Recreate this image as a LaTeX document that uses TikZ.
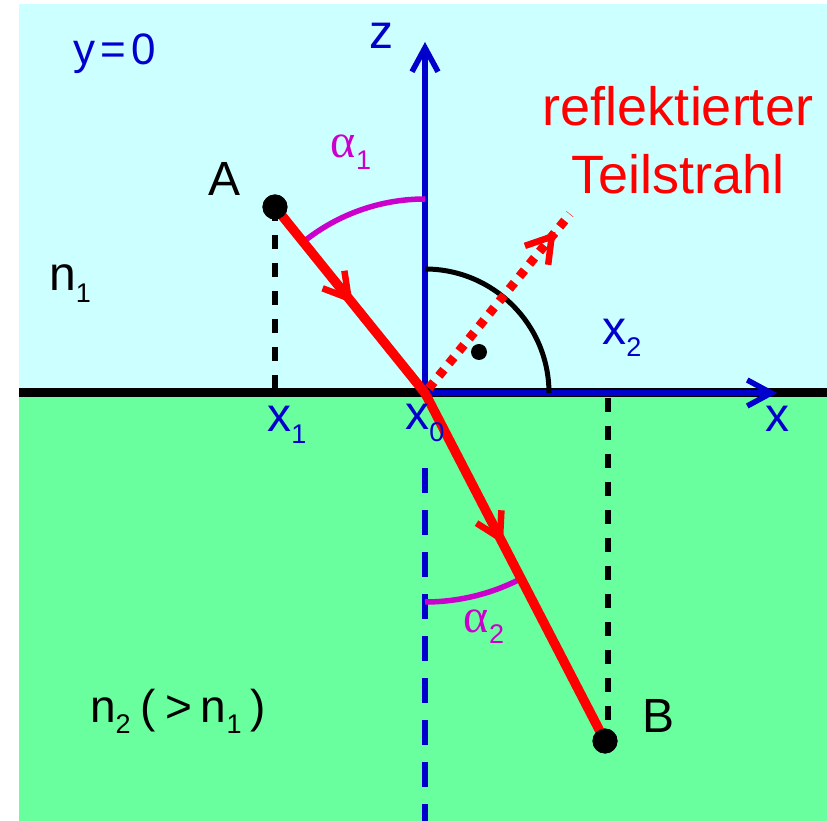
\documentclass[tikz,border=0pt]{standalone}
\usepackage{fontspec}
\setmainfont{Liberation Sans}
\newfontfamily\greekfont{Liberation Serif}
\usetikzlibrary{arrows.meta,decorations.markings}
\definecolor{bgcyan}{RGB}{204,255,255}
\definecolor{bggreen}{RGB}{106,255,158}
\definecolor{axblue}{RGB}{0,0,204}
\definecolor{angmag}{RGB}{204,0,204}
\newcommand\lsub[1]{\raisebox{-0.24em}{\fontsize{27}{27}\selectfont #1}}
\begin{document}
\begin{tikzpicture}[x=1pt,y=1pt,
  lbl/.style={font=\fontsize{48}{48}\selectfont, inner sep=0pt, anchor=base},
  redlbl/.style={font=\fontsize{54}{54}\selectfont, inner sep=0pt, anchor=base, text=red},
  dotnode/.style={circle, fill=black, inner sep=0pt, minimum size=25pt},
  smalldot/.style={circle, fill=black, inner sep=0pt, minimum size=16pt},
  axis/.style={axblue, line width=6.5pt, -{Straight Barb[length=24pt,width=26pt,line width=5.5pt]}},
  raymarks/.style={postaction={decorate}, decoration={markings,
     mark=at position 0.196 with {\arrow{Straight Barb[length=24pt,width=28pt,line width=6.5pt]}},
     mark=at position 0.648 with {\arrow{Straight Barb[length=24pt,width=28pt,line width=6.5pt]}}}},
  reflmark/.style={postaction={decorate}, decoration={markings,
     mark=at position 0.9 with {\arrow{Straight Barb[length=24pt,width=30pt,line width=6.5pt]}}}},
  blackdash/.style={black, line width=5.5pt, dash pattern=on 14pt off 14pt},
  bluedash/.style={axblue, line width=6.5pt, dash pattern=on 25pt off 17pt},
  angarc/.style={angmag, line width=5.5pt}
]
\useasboundingbox (-425,-428) rectangle (402,393);
% backgrounds
\fill[bgcyan] (-406,0) rectangle (402,389);
\fill[bggreen] (-406,-428) rectangle (402,0);
% coordinates
\coordinate (x0) at (0,0);
\coordinate (xl) at (-406,0);
\coordinate (xr) at (402,0);
\coordinate (zt) at (0,351);
\coordinate (xt) at (352,0);
\coordinate (R) at (145,179);
\coordinate (Afoot) at (-150,4);
\coordinate (Bfoot) at (183,-5);
\coordinate (Btop) at (183,-330);
\coordinate (nd1) at (0,-75);
\coordinate (nd2) at (0,-428);
% interface
\draw[black, line width=9pt] (xl) -- (xr);
% dots
\node[dotnode] (A) at (-150,186) {};
\node[dotnode] (B) at (180,-348) {};
% dashed lines
\draw[blackdash] (A.center) -- (Afoot);
\draw[blackdash] (Bfoot) -- (Btop);
\draw[bluedash] (nd1) -- (nd2);
% axes
\draw[axis] (x0) -- (zt);
\draw[axis] (x0) -- (xt);
% angle arcs
\draw[angarc] (0,194) arc[start angle=90, end angle=128.9, radius=194];
\draw[angarc] (0,-209) arc[start angle=270, end angle=297.3, radius=209];
\draw[black, line width=5pt] (0,124) arc[start angle=90, end angle=0, radius=124];
\node[smalldot] (rd) at (54,41) {};
% rays
\draw[red, line width=9.5pt, line join=round, raymarks] (A.center) -- (x0) -- (B.center);
\draw[red, line width=9pt, dash pattern=on 8pt off 8pt, dash phase=-6pt, reflmark] (x0) -- (R);
\node[dotnode] (A2) at (A) {};
\node[dotnode] (B2) at (B) {};
% labels
\node[lbl, text=axblue, font=\fontsize{44}{44}\selectfont] (ylbl) at (-310,328) {y\hspace{5pt}=\hspace{5pt}0};
\node[lbl, text=axblue] (zlbl) at (-43,344) {z};
\node[lbl, text=angmag] (a1lbl) at (-74,235) {{\greekfont α}\lsub{1}};
\node[lbl] (Albl) at (-200,197) {A};
\node[lbl] (n1lbl) at (-355,102) {n\lsub{1}};
\node[lbl, text=axblue] (x2lbl) at (197,48) {x\lsub{2}};
\node[lbl, text=axblue] (x1lbl) at (-138,-39) {x\lsub{1}};
\node[lbl, text=axblue] (x0lbl) at (0,-37) {x\lsub{0}};
\node[lbl, text=axblue] (xlbl) at (352,-39) {x};
\node[lbl, text=angmag] (a2lbl) at (59,-239) {{\greekfont α}\lsub{2}};
\node[lbl] (Blbl) at (234,-339) {B};
\node[lbl, font=\fontsize{46}{46}\selectfont] (n2lbl) at (-247,-329) {n\lsub{2}\hspace{10pt}(\hspace{9pt}>\hspace{9pt}n\lsub{1}\hspace{9pt})};
\node[redlbl] (refl1) at (253,267) {reflektierter};
\node[redlbl] (refl2) at (253,199) {Teilstrahl};
\end{tikzpicture}
\end{document}
